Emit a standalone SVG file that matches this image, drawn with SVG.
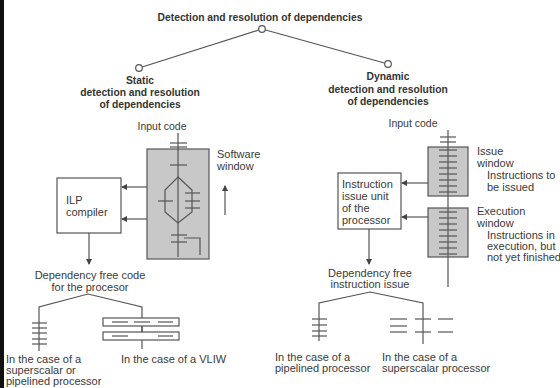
<svg xmlns="http://www.w3.org/2000/svg" width="560" height="388" viewBox="0 0 560 388">
<defs>
<marker id="ah" markerWidth="6" markerHeight="6" refX="5" refY="3" orient="auto" markerUnits="userSpaceOnUse">
<path d="M0,0 L6,3 L0,6 Z" fill="#444"/>
</marker>
<style>
text{font-family:"Liberation Sans",Arial,sans-serif;font-size:11px;fill:#3a3a3a}
.b{font-weight:bold;font-size:10.3px;fill:#333}
.s{font-size:10.5px}
.m{text-anchor:middle}
.ln{stroke:#555;stroke-width:1.2;fill:none}
.tk{stroke:#555;stroke-width:1.2}
.win{fill:#c8c8c8;stroke:#555;stroke-width:1.2}
.box{fill:#fff;stroke:#555;stroke-width:1.2}
.nd{fill:#fff;stroke:#555;stroke-width:1.2}
</style>
</defs>
<rect width="560" height="388" fill="#fff"/>
<rect x="0" y="0" width="4" height="388" fill="#111"/>

<g id="connectors">
<line class="ln" x1="262" y1="29" x2="139" y2="68"/>
<line class="ln" x1="262" y1="29" x2="388" y2="64"/>
<!-- left -->
<line class="ln" x1="147" y1="187" x2="122" y2="187" marker-end="url(#ah)"/>
<line class="ln" x1="147" y1="219" x2="122" y2="219" marker-end="url(#ah)"/>
<line class="ln" x1="89" y1="233" x2="89" y2="264" marker-end="url(#ah)"/>
<line class="ln" x1="225" y1="215" x2="225" y2="186" marker-end="url(#ah)"/>
<polyline class="ln" points="39,351 39,307 88,294 142,307 142,349"/>
<!-- right -->
<line class="ln" x1="428" y1="183" x2="402" y2="183" marker-end="url(#ah)"/>
<line class="ln" x1="428" y1="217" x2="402" y2="217" marker-end="url(#ah)"/>
<line class="ln" x1="369" y1="229" x2="369" y2="264" marker-end="url(#ah)"/>
<polyline class="ln" points="319,341 319,303 370,292 423,303 423,344"/>
</g>

<g id="title">
<text class="b m" x="260" y="21">Detection and resolution of dependencies</text>
<circle class="nd" cx="262" cy="29" r="3.3"/>
</g>

<g id="static">
<circle class="nd" cx="139" cy="68" r="3.3"/>
<text class="b m" x="140" y="84">Static</text>
<text class="b m" x="140" y="96">detection and resolution</text>
<text class="b m" x="140" y="108">of dependencies</text>
</g>

<g id="dynamic">
<circle class="nd" cx="388" cy="64" r="3.3"/>
<text class="b m" x="388" y="80">Dynamic</text>
<text class="b m" x="388" y="93">detection and resolution</text>
<text class="b m" x="388" y="105">of dependencies</text>
</g>

<g id="software-window">
<text class="m s" x="162" y="130">Input code</text>
<rect class="win" x="147" y="149" width="62" height="110"/>
<line class="ln" x1="178" y1="133" x2="178" y2="177"/>
<line class="tk" x1="170" y1="143" x2="187" y2="143"/>
<line class="tk" x1="170" y1="147" x2="187" y2="147"/>
<line class="tk" x1="170" y1="165" x2="187" y2="165"/>
<polygon class="ln" points="178,177 192,190 192,212 178,223 165,212 165,190"/>
<line class="ln" x1="178" y1="177" x2="178" y2="257"/>
<line class="tk" x1="158" y1="201" x2="173" y2="201"/>
<line class="tk" x1="185" y1="193" x2="200" y2="193"/>
<line class="tk" x1="185" y1="201" x2="200" y2="201"/>
<line class="tk" x1="185" y1="208" x2="200" y2="208"/>
<line class="tk" x1="171" y1="235" x2="187" y2="235"/>
<line class="tk" x1="171" y1="242" x2="187" y2="242"/>
<polyline class="ln" points="184,238 200,238 200,255"/>
<text x="217" y="158">Software</text>
<text x="217" y="170">window</text>
</g>

<g id="ilp-compiler">
<rect class="box" x="57" y="178" width="64" height="55"/>
<text x="66" y="204">ILP</text>
<text x="66" y="216">compiler</text>
</g>

<g id="static-output">
<text class="m" x="90" y="279">Dependency free code</text>
<text class="m" x="90" y="291">for the procesor</text>
<line class="tk" x1="32" y1="323" x2="47" y2="323"/>
<line class="tk" x1="32" y1="328" x2="47" y2="328"/>
<line class="tk" x1="32" y1="333" x2="47" y2="333"/>
<line class="tk" x1="32" y1="339" x2="47" y2="339"/>
<line class="tk" x1="32" y1="344" x2="47" y2="344"/>
<rect class="box" x="103" y="318" width="76" height="8"/>
<rect class="box" x="103" y="332" width="76" height="8"/>
<line class="tk" x1="142" y1="326" x2="142" y2="332"/>
<line class="tk" x1="112" y1="322" x2="128" y2="322"/>
<line class="tk" x1="134" y1="322" x2="150" y2="322"/>
<line class="tk" x1="158" y1="322" x2="173" y2="322"/>
<line class="tk" x1="112" y1="336" x2="128" y2="336"/>
<line class="tk" x1="158" y1="336" x2="173" y2="336"/>
<text x="6" y="363">In the case of a</text>
<text x="6" y="374">superscalar or</text>
<text x="6" y="385">pipelined processor</text>
<text x="121" y="363">In the case of a VLIW</text>
</g>

<g id="issue-window">
<text class="m s" x="413" y="127">Input code</text>
<rect class="win" x="428" y="147" width="40" height="49"/>
<rect class="win" x="428" y="208" width="40" height="49"/>
<line class="ln" x1="448" y1="130" x2="448" y2="287"/>
<line class="tk" x1="440" y1="137" x2="456" y2="137"/>
<line class="tk" x1="440" y1="142" x2="456" y2="142"/>
<line class="tk" x1="439" y1="150" x2="457" y2="150"/>
<line class="tk" x1="439" y1="156" x2="457" y2="156"/>
<line class="tk" x1="439" y1="162" x2="457" y2="162"/>
<line class="tk" x1="439" y1="168" x2="457" y2="168"/>
<line class="tk" x1="439" y1="174" x2="457" y2="174"/>
<line class="tk" x1="439" y1="180" x2="457" y2="180"/>
<line class="tk" x1="439" y1="186" x2="457" y2="186"/>
<line class="tk" x1="439" y1="192" x2="457" y2="192"/>
<line class="tk" x1="439" y1="212" x2="457" y2="212"/>
<line class="tk" x1="439" y1="218" x2="457" y2="218"/>
<line class="tk" x1="439" y1="224" x2="457" y2="224"/>
<line class="tk" x1="439" y1="230" x2="457" y2="230"/>
<line class="tk" x1="439" y1="236" x2="457" y2="236"/>
<line class="tk" x1="439" y1="242" x2="457" y2="242"/>
<line class="tk" x1="439" y1="248" x2="457" y2="248"/>
<line class="tk" x1="439" y1="254" x2="457" y2="254"/>
<text x="477" y="155">Issue</text>
<text x="477" y="167">window</text>
<text x="487" y="179">Instructions to</text>
<text x="487" y="191">be issued</text>
<text x="477" y="215">Execution</text>
<text x="477" y="227">window</text>
<text x="487" y="239">Instructions in</text>
<text x="487" y="250">execution, but</text>
<text x="487" y="261">not yet finished</text>
</g>

<g id="issue-unit">
<rect class="box" x="338" y="173" width="63" height="56"/>
<text x="342" y="188">Instruction</text>
<text x="342" y="200">issue unit</text>
<text x="342" y="212">of the</text>
<text x="342" y="224">processor</text>
</g>

<g id="dynamic-output">
<text class="m" x="370" y="277">Dependency free</text>
<text class="m" x="370" y="288">instruction issue</text>
<line class="tk" x1="312" y1="319" x2="327" y2="319"/>
<line class="tk" x1="312" y1="325" x2="327" y2="325"/>
<line class="tk" x1="312" y1="331" x2="327" y2="331"/>
<line class="tk" x1="312" y1="336" x2="327" y2="336"/>
<line class="tk" x1="390" y1="319" x2="407" y2="319"/>
<line class="tk" x1="390" y1="326" x2="407" y2="326"/>
<line class="tk" x1="390" y1="332" x2="407" y2="332"/>
<line class="tk" x1="415" y1="319" x2="431" y2="319"/>
<line class="tk" x1="415" y1="332" x2="431" y2="332"/>
<line class="tk" x1="438" y1="319" x2="453" y2="319"/>
<line class="tk" x1="438" y1="332" x2="453" y2="332"/>
<text x="275" y="361">In the case of a</text>
<text x="275" y="372">pipelined processor</text>
<text x="382" y="361">In the case of a</text>
<text x="382" y="372">superscalar processor</text>
</g>
</svg>
